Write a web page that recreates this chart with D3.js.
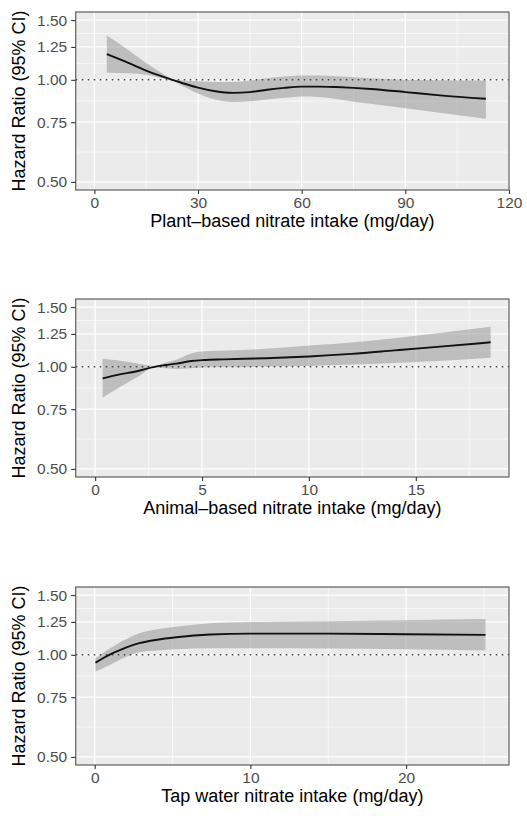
<!DOCTYPE html>
<html>
<head>
<meta charset="utf-8">
<script src="https://cdn.jsdelivr.net/npm/d3@7"></script>
<style>
  html, body { margin: 0; padding: 0; background: #fff; }
  svg { display: block; font-family: "Liberation Sans", Arial, Helvetica, sans-serif; }
</style>
</head>
<body>
<svg id="chart" width="527" height="816"></svg>
<script>
// Restricted cubic spline estimates: hazard ratio with 95% CI by nitrate source
const plantX  = [3.6, 10, 15, 20, 22.5, 25, 30, 35, 40, 45, 50, 55, 60, 65, 70, 75, 80, 90, 100, 113.3];
const plantHR = [1.19, 1.12, 1.065, 1.02, 1.0, 0.982, 0.948, 0.925, 0.915, 0.92, 0.935, 0.947, 0.955, 0.955, 0.952, 0.947, 0.94, 0.92, 0.9, 0.879];
const plantLo = [1.05, 1.045, 1.035, 1.01, 0.997, 0.965, 0.912, 0.875, 0.86, 0.865, 0.875, 0.885, 0.893, 0.89, 0.878, 0.862, 0.85, 0.824, 0.8, 0.768];
const plantHi = [1.35, 1.22, 1.12, 1.04, 1.005, 0.997, 0.99, 0.985, 0.985, 0.995, 1.01, 1.022, 1.03, 1.03, 1.025, 1.017, 1.01, 1.0, 0.997, 0.995];

const animalX  = [0.35, 1, 2, 2.77, 3.3, 3.8, 4.5, 5.06, 6, 8, 10, 12, 14, 16, 18.5];
const animalHR = [0.924, 0.945, 0.972, 1.0, 1.012, 1.022, 1.04, 1.047, 1.052, 1.06, 1.073, 1.092, 1.118, 1.145, 1.181];
const animalLo = [0.811, 0.86, 0.935, 0.995, 0.99, 0.985, 0.99, 0.995, 0.997, 1.0, 1.005, 1.015, 1.027, 1.04, 1.064];
const animalHi = [1.057, 1.045, 1.022, 1.005, 1.03, 1.05, 1.095, 1.112, 1.117, 1.13, 1.155, 1.18, 1.215, 1.255, 1.312];

const tapX  = [0.05, 0.5, 1, 1.5, 2, 2.86, 4, 5.25, 7.42, 10, 15, 20, 25.1];
const tapHR = [0.948, 0.975, 1.003, 1.027, 1.05, 1.082, 1.108, 1.127, 1.148, 1.155, 1.155, 1.15, 1.145];
const tapLo = [0.893, 0.912, 0.935, 0.96, 0.985, 1.018, 1.03, 1.038, 1.045, 1.045, 1.043, 1.038, 1.03];
const tapHi = [0.977, 1.01, 1.045, 1.08, 1.112, 1.157, 1.19, 1.21, 1.238, 1.25, 1.256, 1.265, 1.275];

// Axis ticks, limits and titles
const hrTicks      = [0.5, 0.75, 1.0, 1.25, 1.5];
const hrLimits     = [0.5, 1.5];
const plantTicks   = [0, 30, 60, 90, 120];
const animalTicks  = [0, 5, 10, 15];
const tapTicks     = [0, 10, 20];
const plantDomain  = [-5.4, 120];
const animalDomain = [-0.91, 19.36];
const tapDomain    = [-1.22, 26.61];
const yTitle       = "Hazard Ratio (95% CI)";
const plantTitle   = "Plant\u2013based nitrate intake (mg/day)";
const animalTitle  = "Animal\u2013based nitrate intake (mg/day)";
const tapTitle     = "Tap water nitrate intake (mg/day)";
const refHR        = 1.0;

const panels = [
  { x: plantX,  hr: plantHR,  lo: plantLo,  hi: plantHi,  ticks: plantTicks,  domain: plantDomain,  title: plantTitle,  top: 12 },
  { x: animalX, hr: animalHR, lo: animalLo, hi: animalHi, ticks: animalTicks, domain: animalDomain, title: animalTitle, top: 299 },
  { x: tapX,    hr: tapHR,    lo: tapLo,    hi: tapHi,    ticks: tapTicks,    domain: tapDomain,    title: tapTitle,    top: 587 }
];

const svg = d3.select("#chart");
const left = 75.7, right = 509, panelH = 178;

// log-scale limits padded by 5% of the transformed range on each side
const lr = Math.log(hrLimits[1]) - Math.log(hrLimits[0]);
const yDomain = [hrLimits[0] * Math.exp(-0.05 * lr), hrLimits[1] * Math.exp(0.05 * lr)];

// minor breaks sit halfway between majors in transformed space
function minorBetween(ticks, f, finv) {
  const out = [];
  for (let i = 0; i < ticks.length - 1; i++) out.push(finv((f(ticks[i]) + f(ticks[i + 1])) / 2));
  const step = f(ticks[1]) - f(ticks[0]);
  out.push(finv(f(ticks[ticks.length - 1]) + step / 2));
  out.unshift(finv(f(ticks[0]) - step / 2));
  return out;
}

panels.forEach(p => {
  const g = svg.append("g").attr("transform", `translate(0,${p.top})`);
  const x = d3.scaleLinear().domain(p.domain).range([left, right]);
  const y = d3.scaleLog().domain(yDomain).range([panelH, 0]);

  // panel background
  g.append("rect").attr("x", left).attr("y", 0).attr("width", right - left).attr("height", panelH)
    .attr("fill", "#ebebeb");

  const grid = g.append("g");
  const inX = v => v >= p.domain[0] && v <= p.domain[1];
  const inY = v => v >= yDomain[0] && v <= yDomain[1];

  // minor grid
  minorBetween(p.ticks, v => v, v => v).filter(inX).forEach(v => {
    grid.append("line").attr("x1", x(v)).attr("x2", x(v)).attr("y1", 0).attr("y2", panelH)
      .attr("stroke", "#fff").attr("stroke-width", 0.6);
  });
  minorBetween(hrTicks, Math.log, Math.exp).filter(inY).forEach(v => {
    grid.append("line").attr("x1", left).attr("x2", right).attr("y1", y(v)).attr("y2", y(v))
      .attr("stroke", "#fff").attr("stroke-width", 0.6);
  });
  // major grid
  p.ticks.filter(inX).forEach(v => {
    grid.append("line").attr("x1", x(v)).attr("x2", x(v)).attr("y1", 0).attr("y2", panelH)
      .attr("stroke", "#fff").attr("stroke-width", 1.3);
  });
  hrTicks.forEach(v => {
    grid.append("line").attr("x1", left).attr("x2", right).attr("y1", y(v)).attr("y2", y(v))
      .attr("stroke", "#fff").attr("stroke-width", 1.3);
  });

  const rows = p.x.map((v, i) => ({ x: v, hr: p.hr[i], lo: p.lo[i], hi: p.hi[i] }));

  // confidence band
  g.append("path").datum(rows)
    .attr("d", d3.area().curve(d3.curveMonotoneX)
      .x(d => x(d.x)).y0(d => y(d.lo)).y1(d => y(d.hi)))
    .attr("fill", "#8f8f8f").attr("fill-opacity", 0.5);

  // reference line at HR = 1
  g.append("line").attr("x1", left).attr("x2", right).attr("y1", y(refHR)).attr("y2", y(refHR))
    .attr("stroke", "#444").attr("stroke-width", 1.6).attr("stroke-dasharray", "1.6,4.4");

  // spline estimate
  g.append("path").datum(rows)
    .attr("d", d3.line().curve(d3.curveMonotoneX).x(d => x(d.x)).y(d => y(d.hr)))
    .attr("fill", "none").attr("stroke", "#111").attr("stroke-width", 1.9);

  // panel border
  g.append("rect").attr("x", left).attr("y", 0).attr("width", right - left).attr("height", panelH)
    .attr("fill", "none").attr("stroke", "#6a6a6a").attr("stroke-width", 1.3);

  // axes
  const ya = g.append("g").attr("transform", `translate(${left},0)`)
    .call(d3.axisLeft(y).tickValues(hrTicks).tickFormat(d3.format(".2f")).tickSize(4.5).tickPadding(4));
  const xa = g.append("g").attr("transform", `translate(0,${panelH})`)
    .call(d3.axisBottom(x).tickValues(p.ticks).tickFormat(d3.format("d")).tickSize(4).tickPadding(3));
  [ya, xa].forEach(a => {
    a.select(".domain").remove();
    a.selectAll(".tick line").attr("stroke", "#333").attr("stroke-width", 1.1);
    a.selectAll(".tick text").attr("fill", "#4d4d4d").style("font-size", "15.5px")
      .style("font-family", "'Liberation Sans', Arial, sans-serif");
  });

  // axis titles
  g.append("text").attr("x", (left + right) / 2).attr("y", panelH + 37)
    .attr("text-anchor", "middle").attr("fill", "#000").style("font-size", "18px")
    .text(p.title);
  g.append("text")
    .attr("transform", `translate(24.5,${panelH / 2}) rotate(-90)`)
    .attr("text-anchor", "middle").attr("fill", "#000").style("font-size", "18px")
    .text(yTitle);
});
</script>
</body>
</html>
